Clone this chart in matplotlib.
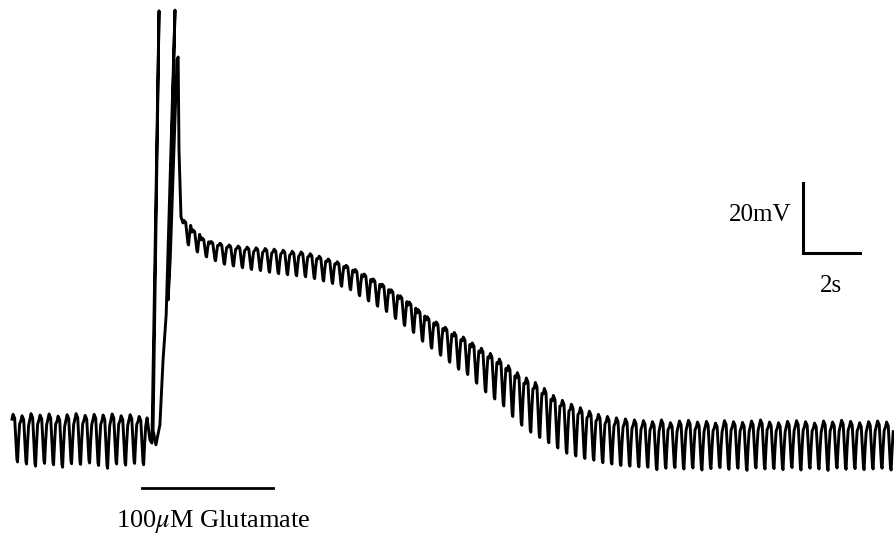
import numpy as np
import matplotlib
matplotlib.use("Agg")
import matplotlib.pyplot as plt

plt.rcParams["font.family"] = ["Liberation Serif", "DejaVu Serif"]
plt.rcParams["mathtext.fontset"] = "stix"

# oscillation period (s) and start of first cycle in each section
period = 0.316
baseline_start = 0.42
plateau_start = 6.42

# resting section, one peak / trough per cycle (mV)
baseline_tops = [-55.4, -55.8, -55.2, -55.6, -55.3, -55.9, -55.5, -55.2,
                 -55.7, -55.4, -55.6, -55.3, -55.8, -55.5, -56.0]
baseline_bottoms = [-69.0, -69.6, -70.2, -69.4, -69.8, -70.5, -69.5, -69.7,
                    -69.3, -70.0, -70.8, -69.6, -69.9, -69.4, -69.8]

# glutamate response: depolarisation and spikes (s, mV)
onset_t = [5.16, 5.26, 5.33, 5.58, 5.37, 5.47, 5.61, 5.72, 5.83, 6.14,
           5.90, 5.97, 6.21, 6.25, 6.28, 6.35]
onset_v = [-56.4, -62.7, -63.6, 59.9, -59.9, -64.1, -58.4, -39.9, -27.0, 60.1,
           -22.7, -11.3, 45.9, 46.7, 20.1, 1.0]

# plateau, repolarisation and recovery, one peak / trough per cycle (mV)
plateau_tops = [0.0, -2.7, -5.0, -6.0, -6.5, -7.0, -7.3, -7.6, -7.8, -8.0,
                -8.2, -8.5, -8.8, -9.0, -9.5, -10.2, -11.0, -11.8, -12.8, -14.0,
                -15.3, -16.7, -18.2, -19.8, -21.5, -23.3, -25.5, -27.5, -29.0, -30.5,
                -32.0, -33.3, -35.0, -36.5, -38.0, -39.6, -41.5, -43.5, -45.0, -46.3,
                -48.0, -50.0, -51.4, -52.5, -53.5, -54.5, -55.4, -56.0, -56.4, -56.7,
                -57.0, -57.2, -57.5, -57.0, -57.8, -57.3, -57.1, -57.6, -57.4, -57.9,
                -57.2, -57.5, -57.7, -57.3, -57.0, -57.6, -57.8, -57.4, -57.2, -57.5,
                -57.9, -57.3, -57.6, -57.1, -57.4, -57.8, -57.5, -57.3, -57.6]
plateau_bottoms = [-7.0, -9.0, -10.4, -11.5, -12.5, -13.0, -13.5, -14.0, -14.3, -14.8,
                   -15.2, -15.5, -15.8, -16.1, -16.6, -17.3, -18.0, -18.8, -19.8, -21.5,
                   -23.0, -24.5, -26.0, -28.0, -30.0, -32.0, -34.5, -36.5, -38.5, -40.5,
                   -42.5, -44.0, -46.5, -49.0, -51.0, -53.0, -56.0, -58.5, -60.5, -62.0,
                   -63.5, -65.0, -66.5, -67.3, -68.0, -68.5, -69.2, -69.6, -70.0, -70.2,
                   -70.4, -70.5, -71.2, -70.8, -70.6, -71.0, -70.7, -71.3, -70.9, -70.6,
                   -71.1, -70.8, -71.4, -70.7, -71.0, -70.9, -71.2, -70.6, -71.3, -70.8,
                   -71.0, -71.4, -70.7, -71.1, -70.9, -71.2, -71.0, -70.8, -71.3]

# shape of one cycle: phase in period, depth between peak (0) and trough (1)
wave_phase = [0.0, 0.12, 0.3, 0.42, 0.55, 0.62, 0.72, 0.85]
wave_depth = [0.1, 0.0, 0.08, 0.5, 0.95, 1.0, 0.6, 0.2]


def cycles(start, tops, bottoms):
    t, v = [], []
    for i, (top, bot) in enumerate(zip(tops, bottoms)):
        t0 = start + i * period
        for ph, d in zip(wave_phase, wave_depth):
            t.append(t0 + ph * period)
            v.append(top - d * (top - bot))
    return t, v


t1, v1 = cycles(baseline_start, baseline_tops, baseline_bottoms)
t3, v3 = cycles(plateau_start, plateau_tops, plateau_bottoms)
t = t1 + onset_t + t3
v = v1 + onset_v + v3

fig = plt.figure(figsize=(8.95, 5.47), dpi=100)
ax = fig.add_axes([0, 0, 1, 1])
ax.plot(t, v, color="black", lw=2.1, solid_joinstyle="round")

# scale bar
ax.plot([28.18, 28.18, 30.18], [10.7, -9.3, -9.3], color="black", lw=2.2,
        solid_joinstyle="miter")
ax.text(27.75, 1.5, "20mV", ha="right", va="center", fontsize=18)
ax.text(29.15, -15.5, "2s", ha="center", va="top", fontsize=18)

# drug application bar
ax.plot([4.98, 9.58], [-76.4, -76.4], color="black", lw=2.0)
ax.text(7.47, -86.1, r"100$\mu$M Glutamate", ha="center", va="center", fontsize=19)

ax.set_xlim(0, 31.4)
ax.set_ylim(-93.3, 63.0)
ax.axis("off")
fig.savefig("out.png", dpi=100)
